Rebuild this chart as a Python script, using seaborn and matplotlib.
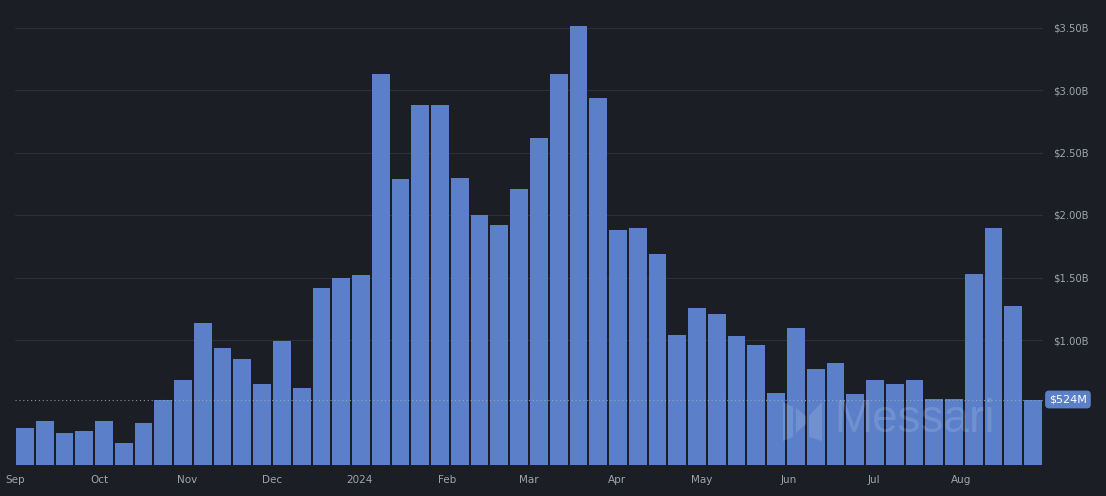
import numpy as np
import pandas as pd
import matplotlib
matplotlib.use('Agg')
import matplotlib.pyplot as plt
import seaborn as sns
from matplotlib.patches import Polygon

# Недельный объём, млрд $ (начиная с 1 сентября 2023)
start_date = '2023-09-01'
volume_b = [0.30, 0.35, 0.26, 0.27, 0.35, 0.18, 0.34, 0.52, 0.68, 1.14,
            0.94, 0.85, 0.65, 0.99, 0.62, 1.42, 1.50, 1.52, 3.13, 2.29,
            2.88, 2.88, 2.30, 2.00, 1.92, 2.21, 2.62, 3.13, 3.51, 2.94,
            1.88, 1.90, 1.69, 1.04, 1.26, 1.21, 1.03, 0.96, 0.58, 1.10,
            0.77, 0.82, 0.57, 0.68, 0.65, 0.68, 0.53, 0.53, 1.53, 1.90,
            1.27, 0.524]
month_dates = ['2023-09-01', '2023-10-01', '2023-11-01', '2023-12-01', '2024-01-01',
               '2024-02-01', '2024-03-01', '2024-04-01', '2024-05-01', '2024-06-01',
               '2024-07-01', '2024-08-01']
month_labels = ['Sep', 'Oct', 'Nov', 'Dec', '2024', 'Feb', 'Mar', 'Apr', 'May',
                'Jun', 'Jul', 'Aug']
y_ticks = [1.0, 1.5, 2.0, 2.5, 3.0, 3.5]
last_label = '$524M'

bg = '#1b1e25'
bar_color = '#5b80c9'
text_color = '#9ea4ad'

sns.set_style('dark')
fig = plt.figure(figsize=(11.06, 4.96), dpi=100, facecolor=bg)
ax = fig.add_axes([15 / 1106, 31 / 496, 1028 / 1106, 465 / 496])
ax.set_facecolor(bg)

df = pd.DataFrame({'week': np.arange(len(volume_b)), 'volume': volume_b})
sns.barplot(data=df, x='week', y='volume', color=bar_color, width=0.9,
            saturation=1, edgecolor='none', ax=ax, zorder=2)

ax.set_xlim(-0.5, len(volume_b) - 0.5)
ax.set_ylim(0, 3.72)

# позиции месяцев в координатах недель
days = (pd.to_datetime(month_dates) - pd.Timestamp(start_date)).days.values
ax.set_xticks(days / 7 - 0.5)
ax.set_xticklabels(month_labels)

ax.yaxis.tick_right()
ax.set_yticks(y_ticks)
ax.set_yticklabels([f'${v:.2f}B' for v in y_ticks])
ax.tick_params(axis='y', length=0, pad=7, labelsize=7.2, colors=text_color)
ax.tick_params(axis='x', length=3, width=0.8, color='#3a3f48', pad=4,
               labelsize=7.5, colors=text_color)
ax.grid(axis='y', color='#2c3038', linewidth=0.8, zorder=0)
ax.grid(axis='x', visible=False)
for s in ax.spines.values():
    s.set_visible(False)
ax.set_xlabel('')
ax.set_ylabel('')

# пунктир последнего значения и метка
ax.axhline(volume_b[-1], color='#a8aeb6', linestyle=(0, (1, 2.5)),
           linewidth=0.8, alpha=0.8, zorder=3)
ax.text(1.0 + 6 / 1028, volume_b[-1], last_label, transform=ax.get_yaxis_transform(),
        ha='left', va='center', color='white', fontsize=8, zorder=5,
        bbox=dict(boxstyle='round,pad=0.35,rounding_size=0.35', fc=bar_color, ec='none'))

# водяной знак
fig.text(0.827, 0.153, 'Messari', color='white', alpha=0.13, fontsize=33,
         family='Liberation Sans', ha='center', va='center')
logo = [[(783, 402), (793, 407), (793, 437), (783, 441)],
        [(796, 408), (806, 416), (806, 424), (796, 433)],
        [(809, 416), (822, 402), (822, 441), (809, 437)]]
for pts in logo:
    fig.patches.append(Polygon([(x / 1106, 1 - y / 496) for x, y in pts], closed=True,
                               transform=fig.transFigure, fc='white', alpha=0.13,
                               ec='none', zorder=6))

fig.savefig('out.png', dpi=100, facecolor=bg)
